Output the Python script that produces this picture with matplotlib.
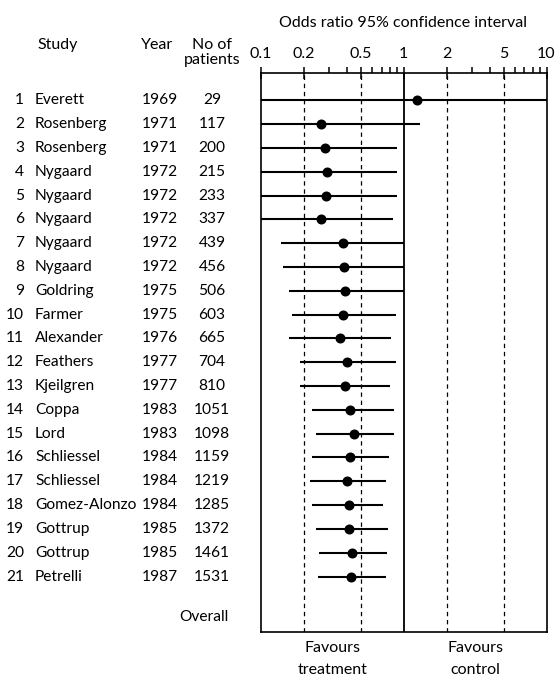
import matplotlib
matplotlib.use("Agg")
import matplotlib.pyplot as plt
import matplotlib.transforms as mtransforms
from matplotlib.ticker import FixedLocator, NullFormatter

plt.rcParams['font.family'] = ['Lato', 'DejaVu Sans']

study_no = ["1", "2", "3", "4", "5", "6", "7", "8", "9", "10", "11", "12", "13", "14", "15", "16", "17", "18", "19", "20", "21"]
studies = ["Everett", "Rosenberg", "Rosenberg", "Nygaard", "Nygaard", "Nygaard", "Nygaard", "Nygaard",
           "Goldring", "Farmer", "Alexander", "Feathers", "Kjeilgren", "Coppa", "Lord", "Schliessel",
           "Schliessel", "Gomez-Alonzo", "Gottrup", "Gottrup", "Petrelli"]
years = ["1969", "1971", "1971", "1972", "1972", "1972", "1972", "1972", "1975", "1975", "1976", "1977",
         "1977", "1983", "1983", "1984", "1984", "1984", "1985", "1985", "1987"]
patients = ["29", "117", "200", "215", "233", "337", "439", "456", "506", "603", "665", "704", "810",
            "1051", "1098", "1159", "1219", "1285", "1372", "1461", "1531"]
odds_ratio = [1.23, 0.262, 0.279, 0.288, 0.284, 0.262, 0.376, 0.379, 0.389, 0.375, 0.355, 0.400, 0.385,
              0.421, 0.450, 0.421, 0.400, 0.411, 0.415, 0.434, 0.429]
ci_low = [0.05, 0.09, 0.09, 0.09, 0.09, 0.09, 0.138, 0.142, 0.156, 0.165, 0.156, 0.189, 0.189,
          0.226, 0.241, 0.226, 0.220, 0.226, 0.241, 0.256, 0.249]
ci_high = [25.0, 1.31, 0.90, 0.90, 0.90, 0.84, 1.0, 1.0, 1.0, 0.888, 0.809, 0.888, 0.801,
           0.85, 0.859, 0.788, 0.755, 0.718, 0.776, 0.767, 0.750]
major_ticks = [0.1, 0.2, 0.5, 1, 2, 5, 10]
major_labels = ["0.1", "0.2", "0.5", "1", "2", "5", "10"]
minor_ticks = [0.3, 0.4, 0.6, 0.7, 0.8, 0.9, 3, 4, 6, 7, 8, 9]
dashed_refs = [0.2, 0.5, 2, 5]

W, H = 556, 678
fig = plt.figure(figsize=(W / 100, H / 100), dpi=100)
ax = fig.add_axes([261 / W, 1 - 632 / H, (546.5 - 261) / W, (632 - 72.5) / H])

n = len(studies)
rows = list(range(1, n + 1))
ax.set_xscale('log')
ax.set_xlim(0.1, 10)
ax.set_ylim(23.33, -0.17)

for v in dashed_refs:
    ax.axvline(v, color='black', lw=0.9, dashes=(3.5, 3.0))
ax.axvline(1, color='black', lw=1.3)

for y, o, lo, hi in zip(rows, odds_ratio, ci_low, ci_high):
    ax.plot([lo, hi], [y, y], color='black', lw=1.5, solid_capstyle='butt')
    ax.plot([o], [y], 'o', color='black', ms=6.2)

fs = 11.2
ax.xaxis.set_ticks_position('top')
ax.xaxis.set_major_locator(FixedLocator(major_ticks))
ax.set_xticklabels(major_labels)
ax.xaxis.set_minor_locator(FixedLocator(minor_ticks))
ax.xaxis.set_minor_formatter(NullFormatter())
ax.tick_params(axis='x', which='major', direction='inout', length=8, width=1.1, labelsize=11.5, pad=4)
ax.tick_params(axis='x', which='minor', direction='out', length=4, width=1.1)
ax.set_yticks([])
for s in ax.spines.values():
    s.set_linewidth(1.2)

trans = mtransforms.blended_transform_factory(fig.transFigure, ax.transData)
for y, no, st, yr, pt in zip(rows, study_no, studies, years, patients):
    ax.text(24 / W, y, no, transform=trans, ha='right', va='center', fontsize=fs, clip_on=False)
    ax.text(35 / W, y, st, transform=trans, ha='left', va='center', fontsize=fs, clip_on=False)
    ax.text(142 / W, y, yr, transform=trans, ha='left', va='center', fontsize=fs, clip_on=False)
    ax.text(212 / W, y, pt, transform=trans, ha='center', va='center', fontsize=fs, clip_on=False)
ax.text(229 / W, 22.7, "Overall", transform=trans, ha='right', va='center', fontsize=fs, clip_on=False)

def figtext(px, py, s, ha='left'):
    fig.text(px / W, 1 - py / H, s, ha=ha, va='center', fontsize=11.5)

figtext(37, 45, "Study")
figtext(141, 45, "Year")
figtext(212, 45, "No of", ha='center')
figtext(212, 60, "patients", ha='center')
figtext(403, 23, "Odds ratio 95% confidence interval", ha='center')

xt = mtransforms.blended_transform_factory(ax.transData, fig.transFigure)
for xv, l1, l2 in [(10 ** -0.5, "Favours", "treatment"), (10 ** 0.5, "Favours", "control")]:
    ax.text(xv, 1 - 648 / H, l1, transform=xt, ha='center', va='center', fontsize=11.5)
    ax.text(xv, 1 - 670 / H, l2, transform=xt, ha='center', va='center', fontsize=11.5)

fig.savefig("out.png", dpi=100)
